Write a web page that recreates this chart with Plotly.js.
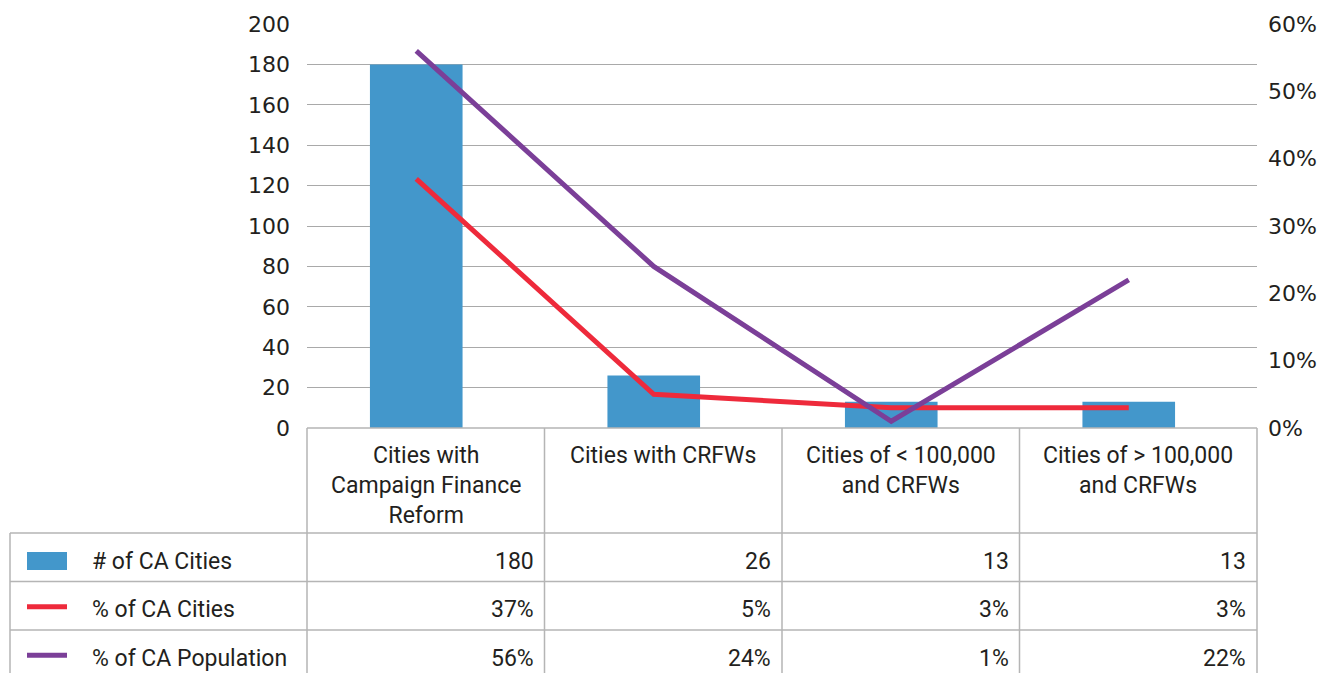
<!DOCTYPE html>
<html>
<head>
<meta charset="utf-8">
<script src="https://cdn.plot.ly/plotly-3.0.1.min.js"></script>
<style>
html, body { margin: 0; padding: 0; background: #ffffff; }
#chart { width: 1319px; height: 673px; }
</style>
</head>
<body>
<div id="chart"></div>
<script>
// ---- data ----
const categories = ["Cities with Campaign Finance Reform", "Cities with CRFWs", "Cities of < 100,000 and CRFWs", "Cities of > 100,000 and CRFWs"];
const headerLabels = ["Cities with<br>Campaign Finance<br>Reform", "Cities with CRFWs", "Cities of &lt; 100,000<br>and CRFWs", "Cities of &gt; 100,000<br>and CRFWs"];
const seriesNames = ["# of CA Cities", "% of CA Cities", "% of CA Population"];
const numCities = [180, 26, 13, 13];
const pctCities = [0.37, 0.05, 0.03, 0.03];
const pctPopulation = [0.56, 0.24, 0.01, 0.22];
const leftTicks = [0, 20, 40, 60, 80, 100, 120, 140, 160, 180, 200];
const rightTicks = [0, 0.1, 0.2, 0.3, 0.4, 0.5, 0.6];

// ---- styling ----
const BLUE = "#4397cb", RED = "#ee2a3b", PURPLE = "#7b3f98";
const GRID = "#a9a9a9", TABLE = "#b5b5b5";
const TEXT = "#231f20";
const tickFont = {family: "DejaVu Sans, sans-serif", size: 22, color: TEXT};
const tableFont = {family: "Roboto, sans-serif", size: 23, color: TEXT};

const W = 1319, H = 673;
const L = 307, R = 62, T = 24, B = 245;
const plotW = W - L - R, plotH = H - T - B;
const px = x => (x - L) / plotW;
const py = y => (H - B - y) / plotH;

const fmtPct = v => Math.round(v * 100) + "%";
const rowsText = [numCities.map(String), pctCities.map(fmtPct), pctPopulation.map(fmtPct)];

const traces = [
  {type: "bar", x: categories, y: numCities, name: seriesNames[0], marker: {color: BLUE}, width: 0.39, yaxis: "y", hoverinfo: "skip"},
  {type: "scatter", mode: "lines", x: categories, y: pctCities, name: seriesNames[1], line: {color: RED, width: 5}, yaxis: "y2", hoverinfo: "skip"},
  {type: "scatter", mode: "lines", x: categories, y: pctPopulation, name: seriesNames[2], line: {color: PURPLE, width: 5}, yaxis: "y2", hoverinfo: "skip"}
];

const shapes = [];
const annotations = [];
const line = (x0, y0, x1, y1) => shapes.push({type: "line", xref: "paper", yref: "paper", x0: px(x0), y0: py(y0), x1: px(x1), y1: py(y1), line: {color: TABLE, width: 1.5}, layer: "above"});

// table geometry (pixels)
const tTop = 428, hdrBottom = 533, rowH = 48.5, tBottom = 690, legLeft = 10, tRight = L + plotW;
const colEdges = categories.map((c, i) => L + i * plotW / categories.length).concat([tRight]);

// horizontal lines
line(L, tTop, tRight, tTop);
line(legLeft, hdrBottom, tRight, hdrBottom);
for (let r = 1; r < seriesNames.length; r++) line(legLeft, hdrBottom + r * rowH, tRight, hdrBottom + r * rowH);
// vertical lines
colEdges.forEach(x => line(x, tTop, x, tBottom));
line(legLeft, hdrBottom, legLeft, tBottom);

// header labels
headerLabels.forEach((lab, i) => {
  annotations.push({xref: "paper", yref: "paper", x: px((colEdges[i] + colEdges[i + 1]) / 2), y: py(440),
    xanchor: "center", yanchor: "top", text: lab, showarrow: false, font: tableFont, align: "center"});
});

// rows
seriesNames.forEach((name, r) => {
  const cy = hdrBottom + r * rowH + rowH / 2 + 4;
  // legend key
  if (r === 0) {
    shapes.push({type: "rect", xref: "paper", yref: "paper", x0: px(27), x1: px(67), y0: py(552), y1: py(570), fillcolor: BLUE, line: {width: 0}, layer: "above"});
  } else {
    shapes.push({type: "line", xref: "paper", yref: "paper", x0: px(27), x1: px(67), y0: py(cy - 3), y1: py(cy - 3), line: {color: r === 1 ? RED : PURPLE, width: 5}, layer: "above"});
  }
  annotations.push({xref: "paper", yref: "paper", x: px(90), y: py(cy), xanchor: "left", yanchor: "middle", text: name, showarrow: false, font: tableFont});
  rowsText[r].forEach((v, i) => {
    annotations.push({xref: "paper", yref: "paper", x: px(colEdges[i + 1] - 9), y: py(cy), xanchor: "right", yanchor: "middle", text: v, showarrow: false, font: tableFont});
  });
});

const layout = {
  width: W, height: H,
  margin: {l: L, r: R, t: T, b: B, pad: 0},
  paper_bgcolor: "#ffffff", plot_bgcolor: "#ffffff",
  showlegend: false,
  bargap: 0.6,
  xaxis: {type: "category", range: [-0.46, 3.54], showticklabels: false, ticks: "", showgrid: false, zeroline: false, showline: false, fixedrange: true},
  yaxis: {range: [0, 200], tickvals: leftTicks, ticktext: leftTicks.map(String), showgrid: true, gridcolor: GRID, gridwidth: 1,
    zeroline: false, showline: false, ticks: "", ticklabelstandoff: 16, tickfont: tickFont, fixedrange: true},
  yaxis2: {range: [0, 0.6], tickvals: rightTicks, ticktext: rightTicks.map(fmtPct), overlaying: "y", side: "right",
    showgrid: false, zeroline: false, showline: false, ticks: "", ticklabelstandoff: 10, tickfont: tickFont, fixedrange: true},
  shapes: shapes,
  annotations: annotations
};

Plotly.newPlot("chart", traces, layout, {displayModeBar: false, staticPlot: true});
</script>
</body>
</html>
